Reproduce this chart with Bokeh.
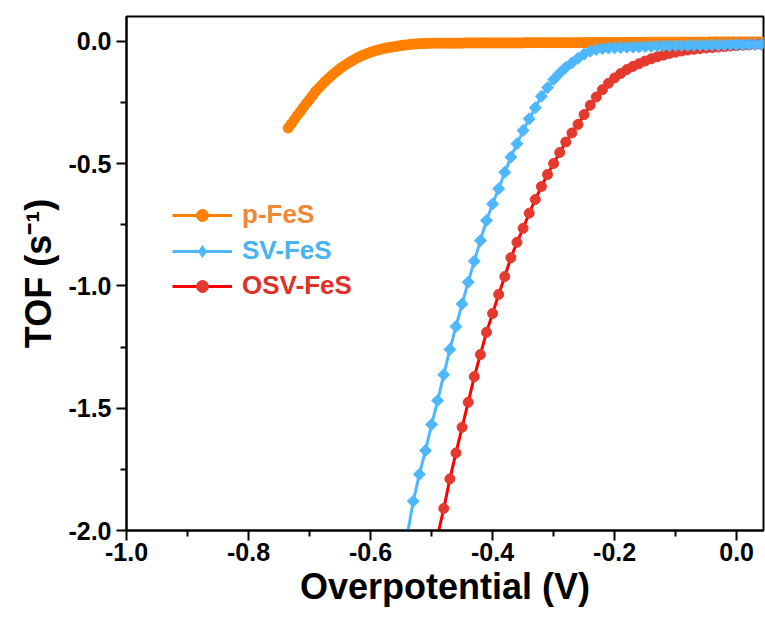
from bokeh.plotting import figure
from bokeh.models import Range1d, FixedTicker, Legend, LegendItem, PrintfTickFormatter
from bokeh.embed import file_html
from bokeh.resources import INLINE
import math

# ---------------- data ----------------
p_fes_x = [-0.735, -0.73, -0.725, -0.72, -0.715, -0.71, -0.705, -0.7, -0.695, -0.69,
           -0.685, -0.68, -0.675, -0.67, -0.665, -0.66, -0.655, -0.65, -0.645, -0.64,
           -0.635, -0.63, -0.625, -0.62, -0.615, -0.61, -0.605, -0.6, -0.595, -0.59,
           -0.585, -0.58, -0.575, -0.57, -0.565, -0.56, -0.555, -0.55, -0.545, -0.54,
           -0.535, -0.53, -0.525, -0.52, -0.515, -0.51, -0.505, -0.5,
           -0.495, -0.49, -0.485, -0.48, -0.475, -0.47, -0.465, -0.46, -0.455, -0.45,
           -0.445, -0.44, -0.435, -0.43, -0.425, -0.42, -0.415, -0.41, -0.405, -0.4,
           -0.395, -0.39, -0.385, -0.38, -0.375, -0.37, -0.365, -0.36, -0.355, -0.35,
           -0.345, -0.34, -0.335, -0.33, -0.325, -0.32, -0.315, -0.31, -0.305, -0.3,
           -0.295, -0.29, -0.285, -0.28, -0.275, -0.27, -0.265, -0.26, -0.255, -0.25,
           -0.245, -0.24, -0.235, -0.23, -0.225, -0.22, -0.215, -0.21, -0.205, -0.2,
           -0.195, -0.19, -0.185, -0.18, -0.175, -0.17, -0.165, -0.16, -0.155, -0.15,
           -0.145, -0.14, -0.135, -0.13, -0.125, -0.12, -0.115, -0.11, -0.105, -0.1,
           -0.095, -0.09, -0.085, -0.08, -0.075, -0.07, -0.065, -0.06, -0.055, -0.05,
           -0.045, -0.04, -0.035, -0.03, -0.025, -0.02, -0.015, -0.01, -0.005, 0.0,
           0.005, 0.01, 0.015, 0.02, 0.025, 0.03, 0.035, 0.04, 0.045, 0.05]
p_fes_y = [-0.355, -0.338, -0.320, -0.303, -0.287, -0.270, -0.254, -0.238, -0.222, -0.205,
           -0.192, -0.179, -0.166, -0.154, -0.143, -0.132, -0.122, -0.112, -0.103, -0.095,
           -0.087, -0.080, -0.073, -0.066, -0.060, -0.055, -0.050, -0.045, -0.041, -0.037,
           -0.034, -0.031, -0.028, -0.026, -0.024, -0.022, -0.020, -0.018, -0.016, -0.015,
           -0.013, -0.012, -0.011, -0.010, -0.010, -0.009, -0.009, -0.008,
           -0.008, -0.008, -0.008, -0.008, -0.008, -0.008, -0.008, -0.008, -0.008, -0.008,
           -0.007, -0.007, -0.007, -0.007, -0.007, -0.007, -0.007, -0.007, -0.007, -0.007,
           -0.007, -0.007, -0.007, -0.007, -0.007, -0.007, -0.007, -0.007, -0.007, -0.007,
           -0.006, -0.006, -0.006, -0.006, -0.006, -0.006, -0.006, -0.006, -0.006, -0.006,
           -0.006, -0.006, -0.006, -0.006, -0.006, -0.006, -0.006, -0.006, -0.006, -0.006,
           -0.005, -0.005, -0.005, -0.005, -0.005, -0.005, -0.005, -0.005, -0.005, -0.005,
           -0.005, -0.005, -0.005, -0.005, -0.005, -0.005, -0.005, -0.005, -0.005, -0.005,
           -0.004, -0.004, -0.004, -0.004, -0.004, -0.004, -0.004, -0.004, -0.004, -0.004,
           -0.004, -0.004, -0.004, -0.004, -0.004, -0.004, -0.004, -0.004, -0.004, -0.004,
           -0.003, -0.003, -0.003, -0.003, -0.003, -0.003, -0.003, -0.003, -0.003, -0.003,
           -0.003, -0.003, -0.003, -0.003, -0.003, -0.003, -0.003, -0.003, -0.003, -0.003]

sv_fes_x = [-0.54, -0.53, -0.52, -0.51, -0.5, -0.49, -0.48, -0.47, -0.46, -0.45,
            -0.44, -0.43, -0.42, -0.41, -0.4, -0.39, -0.38, -0.37, -0.36, -0.35,
            -0.34, -0.33, -0.32, -0.31, -0.3, -0.29, -0.28, -0.27, -0.26, -0.25,
            -0.24, -0.23, -0.22, -0.21, -0.2, -0.19, -0.18, -0.17, -0.16, -0.15,
            -0.14, -0.13, -0.12, -0.11, -0.1, -0.09, -0.08, -0.07, -0.06, -0.05,
            -0.04, -0.03, -0.02, -0.01, 0.0, 0.01, 0.02, 0.03, 0.04, 0.05]
sv_fes_y = [-2.020, -1.880, -1.770, -1.673, -1.567, -1.469, -1.363, -1.260, -1.166, -1.074,
            -0.985, -0.899, -0.815, -0.733, -0.665, -0.603, -0.536, -0.474, -0.419, -0.365,
            -0.317, -0.272, -0.225, -0.190, -0.157, -0.130, -0.107, -0.088, -0.070, -0.053,
            -0.041, -0.034, -0.030, -0.028, -0.027, -0.026, -0.025, -0.024, -0.023, -0.022,
            -0.021, -0.020, -0.019, -0.019, -0.018, -0.018, -0.017, -0.017, -0.016, -0.016,
            -0.015, -0.015, -0.015, -0.014, -0.014, -0.014, -0.013, -0.013, -0.013, -0.013]

osv_fes_x = [-0.49, -0.48, -0.47, -0.46, -0.45, -0.44, -0.43, -0.42, -0.41, -0.4,
             -0.39, -0.38, -0.37, -0.36, -0.35, -0.34, -0.33, -0.32, -0.31, -0.3,
             -0.29, -0.28, -0.27, -0.26, -0.25, -0.24, -0.23, -0.22, -0.21, -0.2,
             -0.19, -0.18, -0.17, -0.16, -0.15, -0.14, -0.13, -0.12, -0.11, -0.1,
             -0.09, -0.08, -0.07, -0.06, -0.05, -0.04, -0.03, -0.02, -0.01, 0.0,
             0.01, 0.02, 0.03, 0.04, 0.05]
osv_fes_y = [-2.020, -1.910, -1.789, -1.683, -1.578, -1.476, -1.371, -1.281, -1.190, -1.113,
             -1.035, -0.962, -0.885, -0.822, -0.765, -0.703, -0.647, -0.594, -0.545, -0.500,
             -0.455, -0.412, -0.375, -0.340, -0.300, -0.262, -0.228, -0.198, -0.172, -0.150,
             -0.132, -0.116, -0.103, -0.092, -0.081, -0.072, -0.064, -0.057, -0.050, -0.045,
             -0.040, -0.036, -0.033, -0.030, -0.028, -0.026, -0.024, -0.022, -0.020, -0.018,
             -0.016, -0.015, -0.013, -0.012, -0.011]

series_names = ["p-FeS", "SV-FeS", "OSV-FeS"]

x_ticks = [-1.0, -0.8, -0.6, -0.4, -0.2, 0.0]
x_minor_ticks = [-0.9, -0.7, -0.5, -0.3, -0.1]
y_ticks = [-2.0, -1.5, -1.0, -0.5, 0.0]
y_minor_ticks = [-1.75, -1.25, -0.75, -0.25]

x_title = "Overpotential (V)"
y_title = "TOF (s\u207b\u00b9)"

# ---------------- styling ----------------
ORANGE = "#FF8000"
BLUE = "#4DB8FF"
RED_LINE = "#FF0000"
RED_MARK = "#E5392E"
FONT = "Liberation Sans"

p = figure(width=765, height=637, output_backend="svg", toolbar_location=None,
           x_range=Range1d(-1.0, 0.044), y_range=Range1d(-2.0, 0.101),
           min_border_left=126, min_border_right=2, min_border_top=16,
           min_border_bottom=107)
p.grid.visible = False
p.outline_line_color = "black"
p.outline_line_width = 2
p.background_fill_color = "white"
p.border_fill_color = "white"

p.xaxis.ticker = FixedTicker(ticks=x_ticks, minor_ticks=x_minor_ticks)
p.yaxis.ticker = FixedTicker(ticks=y_ticks, minor_ticks=y_minor_ticks)
p.xaxis.formatter = PrintfTickFormatter(format="%.1f")
p.yaxis.formatter = PrintfTickFormatter(format="%.1f")
p.xaxis.axis_label = x_title
p.yaxis.axis_label = y_title

for ax in (p.xaxis[0], p.yaxis[0]):
    ax.axis_line_width = 2
    ax.axis_line_color = "black"
    ax.major_tick_line_width = 2
    ax.minor_tick_line_width = 2
    ax.major_tick_in = 0
    ax.major_tick_out = 10
    ax.minor_tick_in = 0
    ax.minor_tick_out = 6
    ax.major_label_text_font = FONT
    ax.major_label_text_font_style = "bold"
    ax.major_label_text_font_size = "25px"
    ax.major_label_text_color = "black"
    ax.axis_label_text_font = FONT
    ax.axis_label_text_font_style = "bold"
    ax.axis_label_text_font_size = "36px"
    ax.axis_label_text_color = "black"

p.xaxis.major_label_standoff = 2
p.xaxis.axis_label_standoff = 2
p.yaxis.major_label_standoff = 5
p.yaxis.axis_label_standoff = 6

# ---------------- glyphs ----------------
l1 = p.line(p_fes_x, p_fes_y, line_color=ORANGE, line_width=3)
s1 = p.scatter(p_fes_x, p_fes_y, marker="circle", size=10,
               fill_color=ORANGE, line_color=ORANGE)
l3 = p.line(osv_fes_x, osv_fes_y, line_color=RED_LINE, line_width=3)
s3 = p.scatter(osv_fes_x, osv_fes_y, marker="circle", size=10,
               fill_color=RED_MARK, line_color=RED_MARK)
l2 = p.line(sv_fes_x, sv_fes_y, line_color=BLUE, line_width=3)
s2 = p.scatter(sv_fes_x, sv_fes_y, marker="square", size=8.5, angle=math.pi / 4,
               fill_color=BLUE, line_color=BLUE)
# legend-only diamond symbol (a single NaN point, never drawn in the plot)
s2_key = p.scatter(x=[float("nan")], y=[float("nan")], marker="diamond", size=14,
                   fill_color=BLUE, line_color=BLUE)

legend_specs = [
    (series_names[0], [l1, s1], "#EE8836", 300),
    (series_names[1], [l2, s2_key], "#4AB4F2", 264),
    (series_names[2], [l3, s3], "#E0302A", 229),
]
for name, rends, col, yloc in legend_specs:
    leg = Legend(items=[LegendItem(label=name, renderers=rends)],
                 location=(46, yloc),
                 label_text_color=col, label_text_font=FONT,
                 label_text_font_style="bold", label_text_font_size="26px",
                 glyph_width=60, glyph_height=30, label_height=30,
                 label_standoff=10, padding=0, margin=0, spacing=0,
                 border_line_color=None, background_fill_alpha=0)
    p.add_layout(leg, "center")

open("out.html", "w").write(file_html(p, INLINE))
